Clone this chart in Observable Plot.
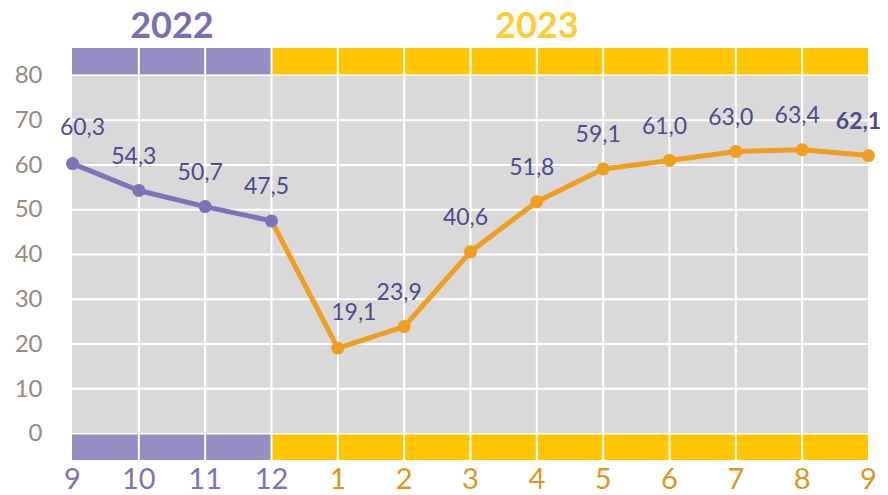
<!DOCTYPE html>
<html>
<head>
<meta charset="utf-8">
<script src="https://cdn.jsdelivr.net/npm/d3@7"></script>
<script src="https://cdn.jsdelivr.net/npm/@observablehq/plot@0.6"></script>
<style>
  html, body { margin: 0; padding: 0; background: #fff; }
  #chart svg { display: block; }
</style>
</head>
<body>
<div id="chart"></div>
<script>
// ---- data ----
const months = ["9","10","11","12","1","2","3","4","5","6","7","8","9"];
const years  = [2022,2022,2022,2022,2023,2023,2023,2023,2023,2023,2023,2023,2023];
const values = [60.3,54.3,50.7,47.5,19.1,23.9,40.6,51.8,59.1,61.0,63.0,63.4,62.1];
const yearLabels = ["2022","2023"];
const yTicks = [0,10,20,30,40,50,60,70,80];

// ---- derived tables ----
const rows = months.map((m, i) => ({i, month: m, year: years[i], value: values[i]}));
const last2022 = d3.max(rows.filter(d => d.year === 2022), d => d.i);
const s2022 = rows.filter(d => d.year === 2022);
const s2023 = rows.filter(d => d.year === 2023 || d.i === last2022);
const n = rows.length - 1;
const iMin = d3.minIndex(values);

const purple = "#7f72b6", orange = "#f09e1e";
const bandPurple = "#988dc2", bandYellow = "#ffc600";
const labelColor = "#4f4a8e";

const bands = [
  {x1: 0, x2: last2022, y1: 80, y2: 86, fill: bandPurple},
  {x1: last2022, x2: n, y1: 80, y2: 86, fill: bandYellow},
  {x1: 0, x2: last2022, y1: -6, y2: 0, fill: bandPurple},
  {x1: last2022, x2: n, y1: -6, y2: 0, fill: bandYellow}
];
const titles = [
  {x: last2022 / 2, label: yearLabels[0], fill: "#7b6eb2"},
  {x: (last2022 + n) / 2 - 0.5, label: yearLabels[1], fill: "#ffcc33"}
];
const fmt = v => d3.format(".1f")(v).replace(".", ",");

const labelOpts = {x: "i", y: "value", text: d => fmt(d.value), fill: labelColor, fontSize: 23};

const chart = Plot.plot({
  width: 888,
  height: 495,
  marginLeft: 72,
  marginRight: 20,
  marginTop: 48,
  marginBottom: 35,
  x: {type: "linear", domain: [0, n], axis: null},
  y: {domain: [-6, 86], axis: null},
  style: {fontFamily: "Lato, 'Open Sans', sans-serif", background: "#fff"},
  marks: [
    Plot.rect([{}], {x1: 0, x2: n, y1: 0, y2: 80, fill: "#d9d9d9"}),
    Plot.rect(bands, {x1: "x1", x2: "x2", y1: "y1", y2: "y2", fill: "fill"}),
    Plot.ruleY(yTicks.filter(t => t > 0 && t < 80), {x1: 0, x2: n, stroke: "#fff", strokeWidth: 2}),
    Plot.ruleY([0, 80], {x1: 0, x2: n, stroke: "#fff", strokeWidth: 1.5}),
    Plot.ruleX(rows.filter(d => d.i > 0 && d.i < n), {x: "i", y1: -6, y2: 86, stroke: "#fff", strokeWidth: 2}),
    Plot.line(s2023, {x: "i", y: "value", stroke: orange, strokeWidth: 5, strokeLinejoin: "round"}),
    Plot.dot(s2023.filter(d => d.year === 2023), {x: "i", y: "value", r: 6.5, fill: orange}),
    Plot.line(s2022, {x: "i", y: "value", stroke: purple, strokeWidth: 5, strokeLinejoin: "round"}),
    Plot.dot(s2022, {x: "i", y: "value", r: 6.5, fill: purple}),
    Plot.text(rows.filter(d => d.i === 0), {...labelOpts, dy: -36, dx: 10}),
    Plot.text(rows.filter(d => d.i === iMin), {...labelOpts, dy: -35, dx: 16}),
    Plot.text(rows.filter(d => d.i > 0 && d.i < n && d.i !== iMin), {...labelOpts, dy: -34, dx: -5}),
    Plot.text(rows.filter(d => d.i === n), {...labelOpts, dy: -34, dx: -10, fontWeight: "bold"}),
    Plot.text(yTicks, {
      x: 0, y: d => d, text: d => String(d), textAnchor: "end", dx: -30,
      fill: "#978a7e", fontSize: 24
    }),
    Plot.text(rows, {
      x: "i", y: -6, text: "month", dy: 19,
      fill: d => d.year === 2022 ? "#8073b4" : "#e0961e", fontSize: 29
    }),
    Plot.text(titles, {
      x: "x", y: 86, text: "label", dy: -22, fill: "fill",
      fontSize: 36, fontWeight: "bold"
    })
  ]
});
document.getElementById("chart").append(chart);
</script>
</body>
</html>
